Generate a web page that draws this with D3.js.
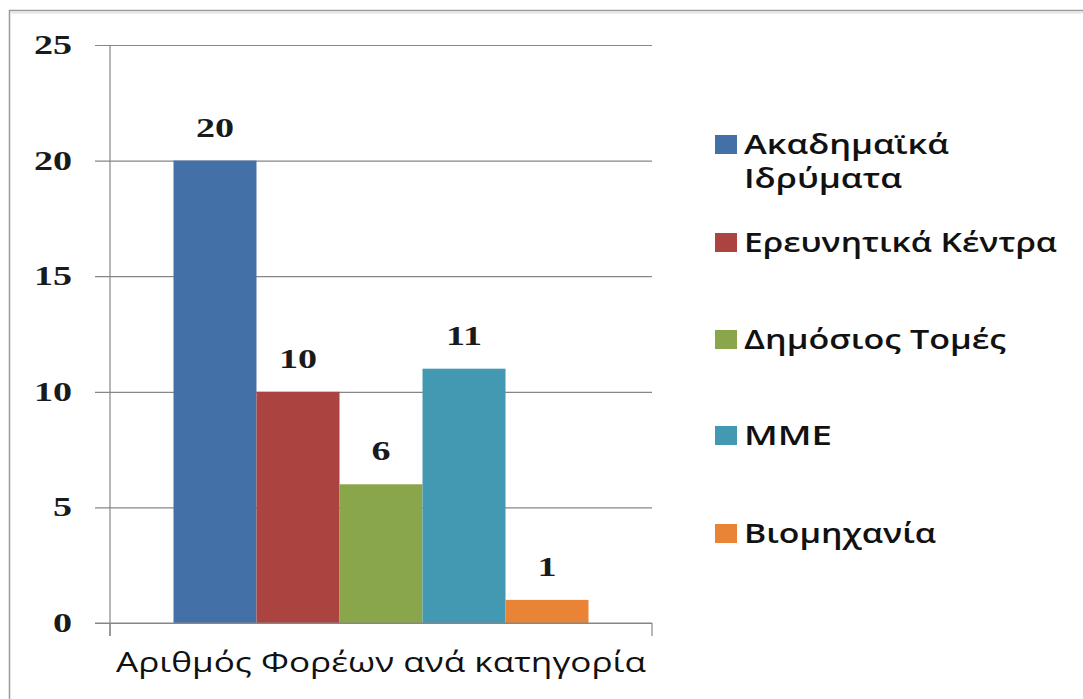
<!DOCTYPE html>
<html>
<head>
<meta charset="utf-8">
<script src="https://cdn.jsdelivr.net/npm/d3@7"></script>
<style>
  html, body { margin: 0; padding: 0; background: #fff; }
  svg { display: block; }
</style>
</head>
<body>
<svg id="chart" width="1083" height="699"></svg>
<script>
// ---- data ----
const category = "Αριθμός Φορέων ανά κατηγορία";
const seriesNames = ["Ακαδημαϊκά Ιδρύματα", "Ερευνητικά Κέντρα", "Δημόσιος Τομές", "ΜΜΕ", "Βιομηχανία"];
const seriesLegendLines = [["Ακαδημαϊκά", "Ιδρύματα"], ["Ερευνητικά Κέντρα"], ["Δημόσιος Τομές"], ["ΜΜΕ"], ["Βιομηχανία"]];
const seriesValues = [20, 10, 6, 11, 1];
const seriesColors = ["#4470a8", "#ab4340", "#8aa64b", "#4499b2", "#e98437"];
const yTicks = [0, 5, 10, 15, 20, 25];

// ---- layout ----
const svg = d3.select("#chart");
const plot = { left: 110, right: 652, top: 45, bottom: 623 };
const gridColor = "#868686";
const numFont = "'Liberation Serif', 'DejaVu Serif', serif";
const sansFont = "'Open Sans', 'Noto Sans', 'DejaVu Sans', sans-serif";

// outer border (extends past the window at right and bottom)
svg.append("rect")
  .attr("x", 9.5).attr("y", 10.5)
  .attr("width", 1200).attr("height", 800)
  .attr("fill", "none").attr("stroke", "#9a9a9a").attr("stroke-width", 1.5);
svg.append("line")
  .attr("x1", 10).attr("x2", 1083).attr("y1", 12.5).attr("y2", 12.5)
  .attr("stroke", "#e4e4e4").attr("stroke-width", 2);

const y = d3.scaleLinear().domain([0, 25]).range([plot.bottom, plot.top]);
const x0 = d3.scaleBand().domain([category]).range([plot.left, plot.right])
  .paddingInner(0).paddingOuter(0.153);
const x1 = d3.scaleBand().domain(seriesNames).range([0, x0.bandwidth()]).padding(0);

// gridlines + y tick marks (extend left of axis)
const yAxis = d3.axisLeft(y).tickValues(yTicks)
  .tickSize(-(plot.right - plot.left)).tickFormat("");
const gy = svg.append("g").attr("transform", `translate(${plot.left},0)`).call(yAxis);
gy.select(".domain").remove();
gy.selectAll(".tick line").attr("stroke", gridColor).attr("stroke-width", 1.2)
  .attr("x1", -15);

// y tick labels
const sxNum = 1.36;
svg.append("g").selectAll("text").data(yTicks).join("text")
  .attr("transform", d => `translate(72,${y(d) + 9}) scale(${sxNum},1)`)
  .attr("text-anchor", "end")
  .attr("font-family", numFont).attr("font-weight", "bold")
  .attr("font-size", 28).attr("fill", "#1a1a1a")
  .text(d => d);

// bars
const barsG = svg.append("g").attr("transform", `translate(${x0(category)},0)`);
barsG.selectAll("rect").data(seriesNames).join("rect")
  .attr("x", d => x1(d))
  .attr("width", x1.bandwidth())
  .attr("y", (d, i) => y(seriesValues[i]))
  .attr("height", (d, i) => y(0) - y(seriesValues[i]))
  .attr("fill", (d, i) => seriesColors[i]);

// data labels
barsG.selectAll("text").data(seriesNames).join("text")
  .attr("transform", (d, i) => `translate(${x1(d) + x1.bandwidth() / 2},${y(seriesValues[i]) - 24}) scale(${sxNum},1)`)
  .attr("text-anchor", "middle")
  .attr("font-family", numFont).attr("font-weight", "bold")
  .attr("font-size", 28).attr("fill", "#1a1a1a")
  .text((d, i) => seriesValues[i]);

// y axis line
svg.append("line")
  .attr("x1", plot.left).attr("x2", plot.left)
  .attr("y1", y(25)).attr("y2", y(0) + 13)
  .attr("stroke", gridColor).attr("stroke-width", 1.2);

// x axis line and edge ticks
svg.append("line")
  .attr("x1", plot.left - 15).attr("x2", plot.right)
  .attr("y1", y(0)).attr("y2", y(0))
  .attr("stroke", gridColor).attr("stroke-width", 1.2);
svg.append("g").selectAll("line").data(x0.range()).join("line")
  .attr("x1", d => d).attr("x2", d => d)
  .attr("y1", y(0)).attr("y2", y(0) + 13)
  .attr("stroke", gridColor).attr("stroke-width", 1.2);

// category label
svg.append("text")
  .attr("x", x0(category) + x0.bandwidth() / 2).attr("y", 672)
  .attr("text-anchor", "middle")
  .attr("font-family", sansFont).attr("font-size", 27).attr("font-weight", 500)
  .attr("fill", "#111")
  .attr("textLength", 530).attr("lengthAdjust", "spacingAndGlyphs")
  .text(category);

// legend
const legendWidths = [[205, 158], [313], [262], [88], [192]];
const legendBaselines = [154, 252, 349, 445, 543];
const lg = svg.append("g");
seriesNames.forEach((name, i) => {
  const b = legendBaselines[i];
  lg.append("rect")
    .attr("x", 715).attr("y", b - 19).attr("width", 22).attr("height", 19)
    .attr("fill", seriesColors[i]);
  seriesLegendLines[i].forEach((line, j) => {
    lg.append("text")
      .attr("x", 744).attr("y", b + j * 34)
      .attr("font-family", sansFont).attr("font-size", 27).attr("font-weight", 600)
      .attr("fill", "#111")
      .attr("textLength", legendWidths[i][j]).attr("lengthAdjust", "spacingAndGlyphs")
      .text(line);
  });
});
</script>
</body>
</html>
